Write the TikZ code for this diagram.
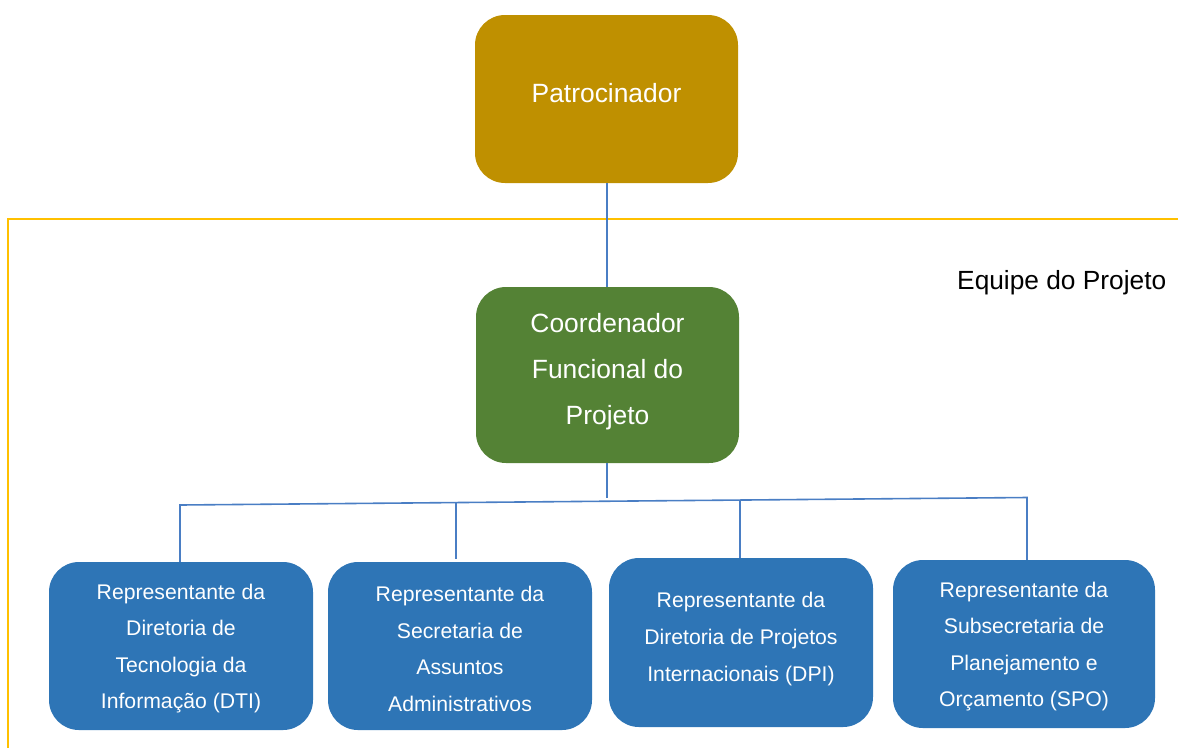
\documentclass[tikz,border=0pt]{standalone}
\usepackage{fontspec}
\setmainfont{Liberation Sans}
\definecolor{gold}{HTML}{BF9000}
\definecolor{leaf}{HTML}{548235}
\definecolor{sea}{HTML}{2E75B6}
\definecolor{wire}{HTML}{4A7EC4}
\definecolor{frameline}{HTML}{FFC000}
\tikzset{
  box/.style={rectangle, rounded corners=30pt, draw=none, inner sep=0pt},
  bigtxt/.style={text=white, align=center, inner sep=0pt, font=\fontsize{26.4}{46}\selectfont},
  smalltxt/.style={text=white, align=center, inner sep=0pt, font=\fontsize{21.2}{36.6}\selectfont},
  wireline/.style={draw=wire, line width=1.6pt},
}
\begin{document}
\begin{tikzpicture}[x=1pt,y=-1pt]
\useasboundingbox (0,0) rectangle (1178,748);
% frame
\draw[frameline, line width=1.6pt] (1178,219) -- (8,219) -- (8,748);
\node[anchor=base west, inner sep=0pt, font=\fontsize{26.3}{30}\selectfont] (eq) at (957,289) {Equipe do Projeto};
% boxes
\node[box, fill=gold, minimum width=263pt, minimum height=168pt] (pat) at (606.5,99) {};
\node[bigtxt] (tp) at (606.5,93) {Patrocinador};
\node[box, fill=leaf, minimum width=263pt, minimum height=176pt] (coo) at (607.5,375) {};
\node[bigtxt] (tc) at (607.5,371.5) {Coordenador\\Funcional do\\Projeto};
\node[box, fill=sea, minimum width=264pt, minimum height=168pt] (b1) at (181,646) {};
\node[box, fill=sea, minimum width=264pt, minimum height=168pt] (b2) at (460,646) {};
\node[box, fill=sea, minimum width=264pt, minimum height=169pt] (b3) at (741,642.5) {};
\node[box, fill=sea, minimum width=262pt, minimum height=168pt] (b4) at (1024,644) {};
\node[smalltxt] (t1) at (181,648.5) {Representante da\\Diretoria de\\Tecnologia da\\Informação (DTI)};
\node[smalltxt] (t2) at (460,649) {Representante da\\Secretaria de\\Assuntos\\Administrativos};
\node[smalltxt] (t3) at (741,639) {Representante da\\Diretoria de Projetos\\Internacionais (DPI)};
\node[smalltxt] (t4) at (1024,646.5) {Representante da\\Subsecretaria de\\Planejamento e\\Orçamento (SPO)};
% bus coordinates
\coordinate (j1) at (180,505);
\coordinate (j2) at (456,502.6);
\coordinate (d2) at (456,559);
\coordinate (j3) at (740,500);
\coordinate (j4) at (1027,497.5);
\coordinate (jc) at (607,497.5);
\coordinate (vx) at (607,0);
% connectors
\draw[wireline] (pat.south -| vx) -- (coo.north -| vx);
\draw[wireline] (coo.south -| vx) -- (jc);
\draw[wireline, line join=miter] (j1 |- b1.north) -- (j1) -- (j4) -- (j4 |- b4.north);
\draw[wireline] (j2) -- (d2);
\draw[wireline] (j3) -- (j3 |- b3.north);
\end{tikzpicture}
\end{document}
